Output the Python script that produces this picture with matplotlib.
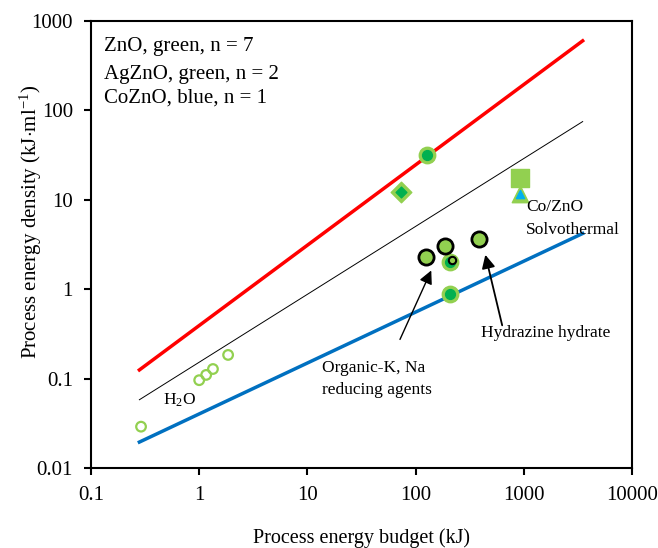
import numpy as np
import matplotlib
matplotlib.use('Agg')
import matplotlib.pyplot as plt

plt.rcParams['font.family'] = ['Liberation Serif', 'DejaVu Serif']
plt.rcParams['mathtext.fontset'] = 'custom'
plt.rcParams['mathtext.rm'] = 'Liberation Serif'
plt.rcParams['mathtext.it'] = 'Liberation Serif:italic'

# trend lines (energy budget kJ -> energy density kJ/ml)
line_x = [0.28, 3500]
red_y = [0.125, 600]
black_y = [0.058, 75]
blue_y = [0.0195, 4.2]

# H2O open circles
h2o_x = [0.29, 1.0, 1.16, 1.34, 1.85]
h2o_y = [0.029, 0.096, 0.11, 0.128, 0.184]

# green filled circles
green_x = [128, 206, 206]
green_y = [32, 2.04, 0.88]

# black-edged circles (organic reducing agents / hydrazine)
blk_x = [125, 186, 389]
blk_y = [2.31, 3.07, 3.65]
small_x = [219]
small_y = [2.1]

diamond_x = [72.6]
diamond_y = [12.1]
square_x = [925]
square_y = [17.4]
tri_x = [925]
tri_y = [11.6]

lg = '#92D050'
dg = '#00B050'

fig = plt.figure(figsize=(6.58, 5.48), dpi=100)
ax = fig.add_axes([91/658, 1-468/548, (632-91)/658, (468-21)/548])
ax.set_xscale('log')
ax.set_yscale('log')
ax.set_xlim(0.1, 10000)
ax.set_ylim(0.01, 1000)

ax.plot(line_x, red_y, color='#FF0000', lw=2.5, zorder=2)
ax.plot(line_x, black_y, color='black', lw=0.7, zorder=2)
ax.plot(line_x, blue_y, color='#0070C0', lw=2.5, zorder=2)

ax.scatter(h2o_x, h2o_y, s=48, facecolors='none', edgecolors=lg, linewidths=1.6, zorder=3)

ax.scatter(green_x, green_y, s=140, color=lg, zorder=3)
ax.scatter(green_x, green_y, s=50, color=dg, zorder=3)

ax.scatter(blk_x, blk_y, s=120, color=lg, edgecolors='black', linewidths=2, zorder=4)
ax.scatter(small_x, small_y, s=28, color=lg, edgecolors='black', linewidths=1.5, zorder=5)

ax.scatter(diamond_x, diamond_y, s=110, marker='D', color=lg, zorder=3)
ax.scatter(diamond_x, diamond_y, s=30, marker='D', color=dg, zorder=3)

ax.scatter(square_x, square_y, s=170, marker='s', color=lg, zorder=3)
ax.scatter(tri_x, tri_y, s=140, marker='^', color=lg, zorder=3)
ax.scatter(tri_x, tri_y, s=35, marker='^', color='#00B0F0', zorder=4)

fs = 15
fa = 12.5
ax.text(0.132, 525, 'ZnO, green, n = 7', fontsize=fs, va='center')
ax.text(0.132, 255, 'AgZnO, green, n = 2', fontsize=fs, va='center')
ax.text(0.132, 137, 'CoZnO, blue, n = 1', fontsize=fs, va='center')

ax.text(0.465, 0.057, r'H$_2$O', fontsize=fa, va='center')
ax.text(1045, 8.3, 'Co/ZnO', fontsize=fa, va='center')
ax.text(1045, 4.6, 'Solvothermal', fontsize=fa, va='center')
ax.text(400, 0.324, 'Hydrazine hydrate', fontsize=fa, va='center')
ax.text(13.5, 0.1315, 'Organic-K, Na', fontsize=fa, va='center')
ax.text(13.5, 0.0745, 'reducing agents', fontsize=fa, va='center')

ax.annotate('', xy=(143, 1.73), xytext=(70, 0.257),
            arrowprops=dict(arrowstyle='-|>', color='black', lw=1, mutation_scale=20))
ax.annotate('', xy=(435, 2.6), xytext=(640, 0.368),
            arrowprops=dict(arrowstyle='-|>', color='black', lw=1.3, mutation_scale=20))

ax.set_xticks([0.1, 1, 10, 100, 1000, 10000])
ax.set_xticklabels(['0.1', '1', '10', '100', '1000', '10000'])
ax.set_yticks([0.01, 0.1, 1, 10, 100, 1000])
ax.set_yticklabels(['0.01', '0.1', '1', '10', '100', '1000'])
ax.minorticks_off()
ax.tick_params(direction='out', length=5, width=1.5, labelsize=fs, pad=8)
for sp in ax.spines.values():
    sp.set_linewidth(1.5)

ax.set_xlabel('Process energy budget (kJ)', fontsize=14.5)
ax.xaxis.set_label_coords(0.5, -0.135)
ax.set_ylabel(r'Process energy density (kJ$\cdot$ml$^{\mathregular{-1}}$)', fontsize=fs)
ax.yaxis.set_label_coords(-0.087, 0.55)

fig.savefig('out.png', dpi=100)
